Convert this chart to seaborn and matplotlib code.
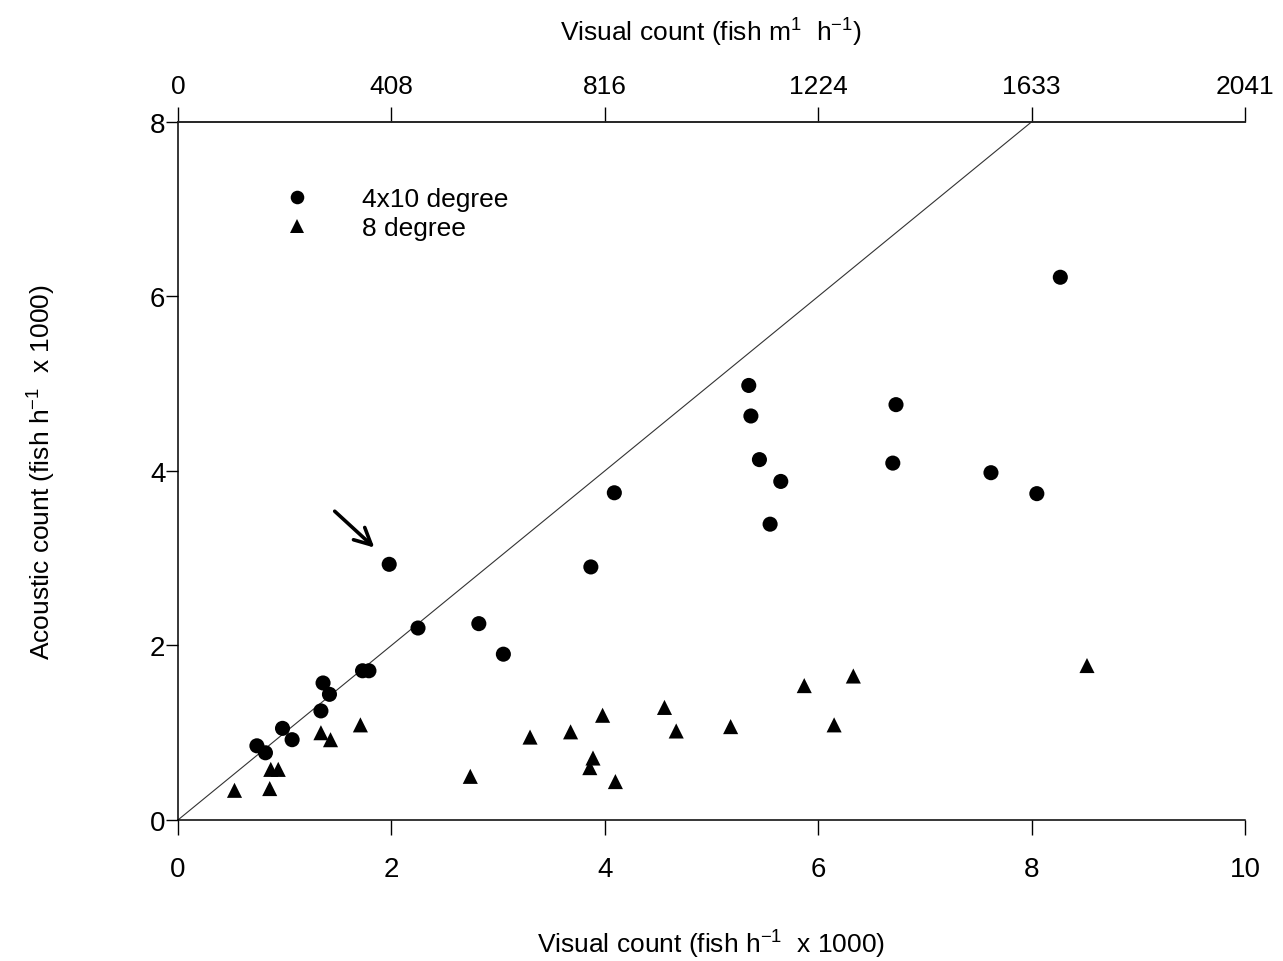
import matplotlib
matplotlib.use("Agg")
import matplotlib.pyplot as plt
import seaborn as sns
import pandas as pd

# Visual vs acoustic fish counts (thousands of fish per hour)
circle_x = [0.74, 0.82, 0.98, 1.07, 1.34, 1.36, 1.42, 1.73, 1.79, 1.98, 2.25, 2.82, 3.05,
            3.87, 4.09, 5.35, 5.37, 5.45, 5.55, 5.65, 6.70, 6.73, 7.62, 8.05, 8.27]
circle_y = [0.85, 0.77, 1.05, 0.92, 1.25, 1.57, 1.44, 1.71, 1.71, 2.93, 2.20, 2.25, 1.90,
            2.90, 3.75, 4.98, 4.63, 4.13, 3.39, 3.88, 4.09, 4.76, 3.98, 3.74, 6.22]

tri_x = [0.53, 0.86, 0.87, 0.94, 1.34, 1.43, 1.71, 2.74, 3.30, 3.68, 3.86, 3.89, 3.98,
         4.10, 4.56, 4.67, 5.18, 5.87, 6.15, 6.33, 8.52]
tri_y = [0.34, 0.36, 0.58, 0.58, 1.00, 0.92, 1.09, 0.50, 0.95, 1.01, 0.60, 0.71, 1.20,
         0.44, 1.29, 1.02, 1.07, 1.54, 1.09, 1.65, 1.77]

series_names = ["4x10 degree", "8 degree"]
bottom_ticks = [0, 2, 4, 6, 8, 10]
top_tick_labels = ["0", "408", "816", "1224", "1633", "2041"]
y_ticks = [0, 2, 4, 6, 8]
one_to_one = [0, 8]

df = pd.concat([
    pd.DataFrame({"visual": circle_x, "acoustic": circle_y, "beam": series_names[0]}),
    pd.DataFrame({"visual": tri_x, "acoustic": tri_y, "beam": series_names[1]}),
], ignore_index=True)

sns.set_style("ticks")
plt.rcParams["font.family"] = ["Liberation Sans", "DejaVu Sans"]
plt.rcParams["mathtext.fontset"] = "custom"
plt.rcParams["mathtext.rm"] = "Liberation Sans"
plt.rcParams["mathtext.it"] = "Liberation Sans:italic"
plt.rcParams["mathtext.bf"] = "Liberation Sans:bold"
for key in ["text.color", "axes.labelcolor", "xtick.color", "ytick.color"]:
    plt.rcParams[key] = "black"

fig = plt.figure(figsize=(12.83, 9.62), dpi=100)
ax = fig.add_axes([0.1387, 0.1466, 0.8316, 0.7256])

sns.scatterplot(data=df, x="visual", y="acoustic", hue="beam", style="beam",
                palette={series_names[0]: "black", series_names[1]: "black"},
                markers={series_names[0]: "o", series_names[1]: "^"},
                s=118, edgecolor="black", linewidth=0, ax=ax, zorder=3)

# 1:1 reference line
ax.plot(one_to_one, one_to_one, color="#333333", lw=0.8, zorder=2)

# arrow pointing at the outlying observation
ax.annotate("", xy=(1.86, 3.10), xytext=(1.45, 3.56),
            arrowprops=dict(arrowstyle="->", lw=2.6, color="black", mutation_scale=30))

ax.set_xlim(0, 10)
ax.set_ylim(0, 8)
ax.set_xticks(bottom_ticks)
ax.set_yticks(y_ticks)
ax.tick_params(axis="both", direction="out", width=1.0, labelsize=20, colors="black")
ax.tick_params(axis="x", length=11, pad=15)
ax.tick_params(axis="y", length=9, pad=0)

for side in ["left", "bottom", "top"]:
    ax.spines[side].set_visible(True)
    ax.spines[side].set_linewidth(1.1)
    ax.spines[side].set_color("black")
ax.spines["right"].set_visible(False)

ax.set_xlabel(r"Visual count (fish h$^{-1}$  x 1000)", fontsize=19, labelpad=33)
ax.set_ylabel(r"Acoustic count (fish h$^{-1}$  x 1000)", fontsize=19, labelpad=66)

top = ax.twiny()
top.set_xlim(ax.get_xlim())
top.set_xticks(bottom_ticks)
top.set_xticklabels(top_tick_labels)
top.tick_params(axis="x", direction="out", length=11, width=1.0, labelsize=19, pad=6)
for side in ["left", "right", "bottom"]:
    top.spines[side].set_visible(False)
top.spines["top"].set_linewidth(1.1)
top.set_xlabel(r"Visual count (fish m$^{1}$  h$^{-1}$)", fontsize=19, labelpad=24)

handles, labels = ax.get_legend_handles_labels()
ax.legend(handles, labels, loc="upper left", bbox_to_anchor=(0.0868, 0.907),
          frameon=False, fontsize=19, markerscale=0.9, handlelength=2.0,
          handletextpad=1.46, borderpad=0, borderaxespad=0, labelspacing=0.2)

fig.savefig("out.png", dpi=100, facecolor="white")
